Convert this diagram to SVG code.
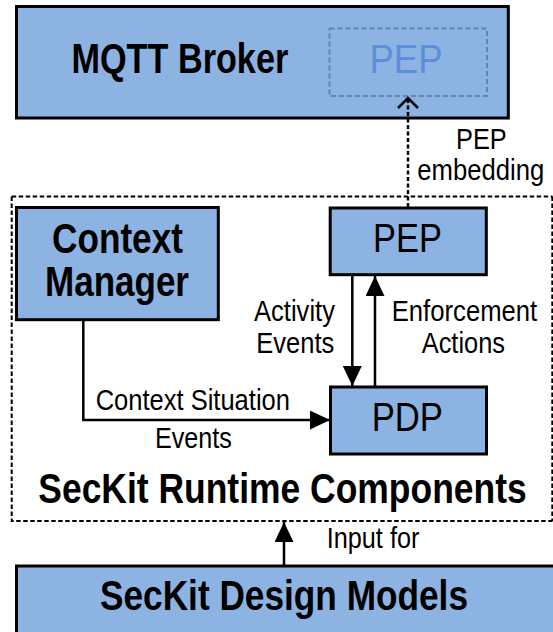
<svg xmlns="http://www.w3.org/2000/svg" width="553" height="632" viewBox="0 0 553 632">
<style>
  .box { fill: #8db3e2; stroke: #000; stroke-width: 3; }
  .b { font-family: "Liberation Sans", Arial, sans-serif; font-weight: bold; font-size: 42px; fill: #000; }
  .r { font-family: "Liberation Sans", Arial, sans-serif; font-size: 41px; fill: #000; }
  .s { font-family: "Liberation Sans", Arial, sans-serif; font-size: 29px; fill: #000; }
  .conn { fill: none; stroke: #000; stroke-width: 2.5; }
  .dash { fill: none; stroke: #000; stroke-width: 2.5; stroke-dasharray: 4 2.5; }
</style>
<defs>
  <marker id="ah" markerUnits="userSpaceOnUse" markerWidth="22" markerHeight="20" refX="20" refY="9.5" orient="auto">
    <path d="M0,0 L20,9.5 L0,19 z" fill="#000"/>
  </marker>
  <marker id="oh" markerUnits="userSpaceOnUse" markerWidth="14" markerHeight="26" refX="11" refY="11" orient="auto">
    <path d="M1,1 L11,11 L1,21" fill="none" stroke="#000" stroke-width="2.5" stroke-dasharray="none"/>
  </marker>
</defs>
<rect x="0" y="0" width="553" height="632" fill="#fff"/>

<g id="runtime">
  <path d="M11.7,196.5 H552.5 M11.7,196.5 V521 H552.5 M552.3,196.5 V521" fill="none" stroke="#000" stroke-width="2" stroke-dasharray="4.5 2.5"/>
  <text class="b" transform="translate(38.3 502.5) scale(0.844 1)">SecKit Runtime Components</text>
</g>

<g id="broker">
  <rect class="box" x="16.5" y="6.5" width="491.8" height="111.5"/>
  <text class="b" font-size="44" transform="translate(71.5 73.3) scale(0.815 1)">MQTT Broker</text>
</g>

<g id="broker-pep">
  <rect x="329.5" y="28.5" width="157.5" height="67.5" fill="none" stroke="#5f84b8" stroke-width="2" stroke-dasharray="5 3"/>
  <text class="r" font-size="45" style="fill:#5b8fd9" transform="translate(369.5 73.3) scale(0.89 1)">PEP</text>
</g>

<g id="context-manager">
  <rect class="box" x="16.5" y="207.5" width="201.8" height="112.2"/>
  <text class="b" transform="translate(52 253.3) scale(0.838 1)">Context</text>
  <text class="b" transform="translate(45 296) scale(0.834 1)">Manager</text>
</g>

<g id="pep">
  <rect class="box" x="330.2" y="208" width="156.1" height="66.7"/>
  <text class="r" transform="translate(373 251.7) scale(0.84 1)">PEP</text>
</g>

<g id="pdp">
  <rect class="box" x="330.5" y="387" width="156" height="67"/>
  <text class="r" transform="translate(371.7 430.7) scale(0.845 1)">PDP</text>
</g>

<g id="design-models">
  <rect class="box" x="16.5" y="566" width="560" height="100"/>
  <text class="b" transform="translate(100 610) scale(0.839 1)">SecKit Design Models</text>
</g>

<g id="connectors">
  <path class="dash" d="M408,207 V98" marker-end="url(#oh)"/>
  <text class="s" transform="translate(456 149.3) scale(0.874 1)">PEP</text>
  <text class="s" transform="translate(417.3 180) scale(0.885 1)">embedding</text>

  <path class="conn" d="M352.3,275 V386" marker-end="url(#ah)"/>
  <text class="s" transform="translate(254 321) scale(0.882 1)">Activity</text>
  <text class="s" transform="translate(256.3 353) scale(0.88 1)">Events</text>

  <path class="conn" d="M375,387 V276" marker-end="url(#ah)"/>
  <text class="s" transform="translate(391.7 321) scale(0.886 1)">Enforcement</text>
  <text class="s" transform="translate(421.7 353) scale(0.876 1)">Actions</text>

  <path class="conn" d="M83.3,320 V420 H330" marker-end="url(#ah)"/>
  <text class="s" transform="translate(95.7 410) scale(0.88 1)">Context Situation</text>
  <text class="s" transform="translate(155 448.3) scale(0.868 1)">Events</text>

  <path class="conn" d="M284,566 V522" marker-end="url(#ah)"/>
  <text class="s" transform="translate(326.7 548.3) scale(0.871 1)">Input for</text>
</g>
</svg>
